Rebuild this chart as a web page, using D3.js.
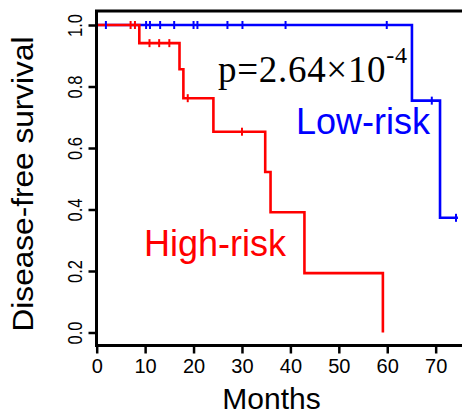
<!DOCTYPE html>
<html lang="en">
<head>
<meta charset="utf-8">
<script src="https://cdnjs.cloudflare.com/ajax/libs/d3/7.8.5/d3.min.js"></script>
<style>
    body { margin: 0; background: #fff; }
    svg { display: block; font-family: 'Liberation Sans', Arial, sans-serif; }
</style>
</head>
<body>
<svg id="chart"></svg>
<script>
    // step points [months, survival] for each group
    const highSteps = [[0, 1.0], [8.8, 0.941], [17.1, 0.856], [17.9, 0.762], [24.1, 0.653], [34.8, 0.522], [35.9, 0.391], [42.9, 0.193], [59.1, 0.0]]
    const highEnd = 59.1
    const highCensor = [7.0, 7.9, 10.9, 12.9, 15.0, 18.8, 30.0]

    const lowSteps = [[0, 1.0], [65.1, 0.754], [70.9, 0.373]]
    const lowEnd = 74.6
    const lowCensor = [1.9, 10.2, 11.0, 13.1, 16.0, 20.0, 20.8, 27.0, 30.1, 39.0, 59.9, 69.2, 74.2]

    const xTicks = [0, 10, 20, 30, 40, 50, 60, 70]
    const yTicks = [0.0, 0.2, 0.4, 0.6, 0.8, 1.0]

    const w = 462, h = 415
    const frameLeft = 96.5, frameTop = 11, frameBottom = 345.5

    const svg = d3.select('#chart').attr('width', w).attr('height', h)

    const x = d3.scaleLinear().domain([0, 75.5]).range([96.7, 462.3])
    const y = d3.scaleLinear().domain([0, 1]).range([332.5, 25])

    // survival value at time t (step function)
    function survAt(steps, t) {
        let s = steps[0][1]
        steps.forEach(d => { if (d[0] <= t) s = d[1] })
        return s
    }

    const line = d3.line().x(d => x(d[0])).y(d => y(d[1])).curve(d3.curveStepAfter)

    function drawCurve(steps, end, color) {
        const pts = steps.concat([[end, steps[steps.length - 1][1]]])
        svg.append('path')
            .datum(pts)
            .attr('d', line)
            .attr('fill', 'none')
            .attr('stroke', color)
            .attr('stroke-width', 2.6)
    }

    function drawCensor(steps, censor, color) {
        svg.append('g').selectAll('line')
            .data(censor)
            .enter().append('line')
            .attr('x1', d => x(d)).attr('x2', d => x(d))
            .attr('y1', d => y(survAt(steps, d)) - 4)
            .attr('y2', d => y(survAt(steps, d)) + 4)
            .attr('stroke', color)
            .attr('stroke-width', 2)
    }

    drawCurve(lowSteps, lowEnd, '#0000ff')
    drawCurve(highSteps, highEnd, '#ff0000')
    drawCensor(lowSteps, lowCensor, '#0000ff')
    drawCensor(highSteps, highCensor, '#ff0000')

    // frame
    svg.append('path')
        .attr('d', `M${w},${frameTop}H${frameLeft}V${frameBottom}H${w}`)
        .attr('fill', 'none')
        .attr('stroke', '#000')
        .attr('stroke-width', 3)

    const xAxis = d3.axisBottom(x).tickValues(xTicks).tickSize(8).tickPadding(5).tickFormat(d3.format('d'))
    const gx = svg.append('g')
        .attr('transform', 'translate(0,' + frameBottom + ')')
        .call(xAxis)
    gx.select('.domain').remove()
    gx.selectAll('line').attr('stroke-width', 2.5)
    gx.selectAll('text')
        .attr('font-size', 20)
        .attr('font-family', "'Liberation Sans', Arial, sans-serif")
        .attr('fill', '#000')

    const yAxis = d3.axisLeft(y).tickValues(yTicks).tickSize(8).tickFormat(d3.format('.1f'))
    const gy = svg.append('g')
        .attr('transform', 'translate(' + frameLeft + ',0)')
        .call(yAxis)
    gy.select('.domain').remove()
    gy.selectAll('line').attr('stroke-width', 2.5)
    gy.selectAll('text')
        .attr('font-size', 21)
        .attr('font-family', "'Liberation Sans', Arial, sans-serif")
        .attr('fill', '#000')
        .attr('text-anchor', 'middle')
        .attr('dy', 0)
        .attr('x', 0)
        .attr('y', 0)
        .attr('textLength', 23)
        .attr('lengthAdjust', 'spacingAndGlyphs')
        .attr('transform', 'translate(-14.5,0) rotate(-90)')

    // axis titles
    svg.append('text')
        .attr('x', 271.5).attr('y', 409)
        .attr('text-anchor', 'middle')
        .attr('font-size', 30)
        .text('Months')

    svg.append('text')
        .attr('transform', 'translate(33,184) rotate(-90)')
        .attr('text-anchor', 'middle')
        .attr('font-size', 30)
        .attr('textLength', 295)
        .attr('lengthAdjust', 'spacingAndGlyphs')
        .text('Disease-free survival')

    // annotations
    const p = svg.append('text')
        .attr('x', 218).attr('y', 82)
        .attr('font-family', "'Liberation Serif', 'Times New Roman', serif")
        .attr('font-size', 37)
        .attr('fill', '#000')
        .attr('textLength', 189)
        .attr('lengthAdjust', 'spacing')
    p.append('tspan').text('p=2.64\u00d710')
    p.append('tspan').attr('font-size', 24).attr('dy', -19).text('-4')

    svg.append('text')
        .attr('x', 296).attr('y', 134)
        .attr('font-size', 36)
        .attr('fill', '#0000ff')
        .text('Low-risk')

    svg.append('text')
        .attr('x', 144).attr('y', 256)
        .attr('font-size', 36)
        .attr('fill', '#ff0000')
        .text('High-risk')
</script>
</body>
</html>
